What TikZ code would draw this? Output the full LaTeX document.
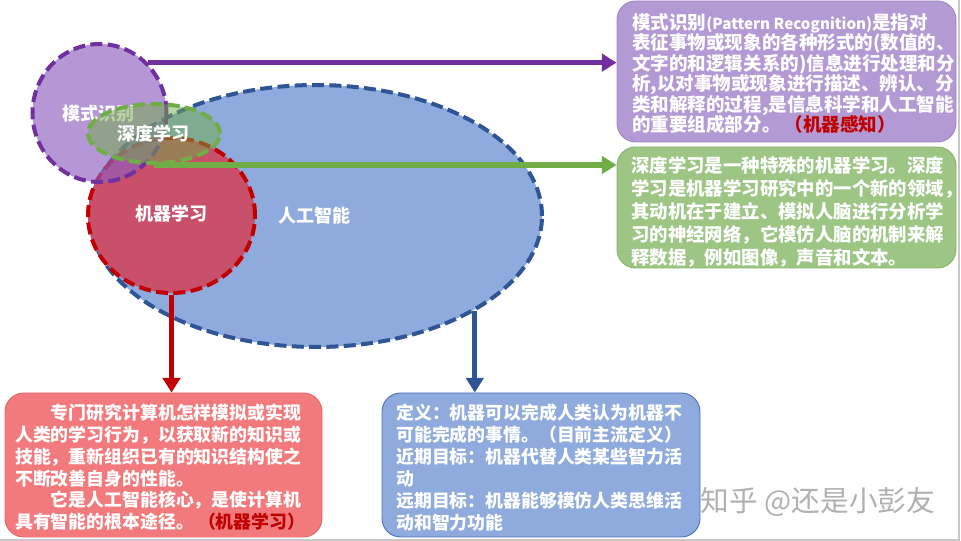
\documentclass[tikz,border=0pt]{standalone}
\usepackage{fontspec}
\setmainfont{Noto Sans CJK SC}
\usetikzlibrary{arrows.meta,shapes.geometric,fit}
\definecolor{aiB}{HTML}{8FAADC}
\definecolor{aiBd}{HTML}{2F5597}
\definecolor{mlR}{HTML}{C8506A}
\definecolor{mlRd}{HTML}{C00000}
\definecolor{prP}{HTML}{8E5FBF}
\definecolor{prPd}{HTML}{7030A0}
\definecolor{dlG}{HTML}{70AD47}
\definecolor{boxP}{HTML}{B49AD4}
\definecolor{boxPd}{HTML}{A088C6}
\definecolor{boxG}{HTML}{9DC685}
\definecolor{boxGd}{HTML}{84B468}
\definecolor{boxR}{HTML}{F37A7C}
\definecolor{boxRd}{HTML}{E06A6C}
\definecolor{boxB}{HTML}{8FAADC}
\definecolor{boxBd}{HTML}{4F71BE}
\definecolor{darkred}{HTML}{C00000}
\definecolor{wmgray}{HTML}{B0B0B0}
\definecolor{framegray}{HTML}{C8C8C8}
\tikzset{
  setshape/.style={ellipse, line width=3pt, dash pattern=on 9pt off 4pt, inner sep=0pt},
  lbl/.style={text=white, font=\fontsize{13.5}{16}\selectfont\bfseries, inner sep=0pt},
  infobox/.style={rectangle, rounded corners=14pt, inner sep=0pt, line width=0.7pt},
  infotxt/.style={text=white, align=left, anchor=north west, inner sep=0pt},
  conn/.style={line width=4pt, -{Triangle[length=11pt,width=13pt]}},
}
\begin{document}
\begin{tikzpicture}[x=0.75pt,y=-0.75pt]
\useasboundingbox (0,0) rectangle (961,541);
% frame
\draw[framegray, line width=1pt] (0,540) -- (959,540) -- (959,0);
% sets
\node[setshape, draw=aiBd, fill=aiB, minimum width=339pt, minimum height=196.5pt] (ai) at (316,216) {};
\node[lbl] (ailbl) at (314,216) {人工智能};
\node[setshape, draw=mlRd, fill=mlR, minimum width=125.25pt, minimum height=116.25pt] (ml) at (171.5,215.5) {};
\node[lbl] (mllbl) at (171,214) {机器学习};
\node[setshape, draw=prPd, fill=prP, fill opacity=0.65, minimum width=100.5pt, minimum height=103.5pt] (pr) at (99.5,113) {};
\node[lbl] (prlbl) at (98,114) {模式识别};
\node[setshape, draw=dlG, fill=dlG, fill opacity=0.5, minimum width=99pt, minimum height=44.25pt] (dl) at (154,133.5) {};
\node[lbl] (dllbl) at (153,134) {深度学习};
% boxes
\node[infobox, fill=boxP, draw=boxPd, fit={(617,1) (956,142)}] (pb) {};
\node[infobox, fill=boxG, draw=boxGd, fit={(617,147) (956,268)}] (gb) {};
\node[infobox, fill=boxR, draw=boxRd, fit={(5,393) (322,537)}] (rb) {};
\node[infobox, fill=boxB, draw=boxBd, fit={(382,393) (700,537)}] (bb) {};
% texts
\node[infotxt, font=\fontsize{13.9}{15.4}\selectfont\bfseries] (pt) at (632,13) {%
模式识别{\fontsize{11.4}{15.4}\selectfont(Pattern Recognition)}是指对\\
表征事物或现象的各种形式的(数值的、\\
文字的和逻辑关系的)信息进行处理和分\\
析,以对事物或现象进行描述、辨认、分\\
类和解释的过程,是信息科学和人工智能\\
的重要组成部分。\ \textcolor{darkred}{（机器感知）}};
\node[infotxt, font=\fontsize{13.8}{17.25}\selectfont\bfseries] (gt) at (631,156) {%
深度学习是一种特殊的机器学习。深度\\
学习是机器学习研究中的一个新的领域，\\
其动机在于建立、模拟人脑进行分析学\\
习的神经网络，它模仿人脑的机制来解\\
释数据，例如图像，声音和文本。};
\node[infotxt, font=\fontsize{13.4}{16.3}\selectfont\bfseries] (rt) at (15,404) {%
\hspace*{2em}专门研究计算机怎样模拟或实现\\
人类的学习行为，以获取新的知识或\\
技能，重新组织已有的知识结构使之\\
不断改善自身的性能。\\
\hspace*{2em}它是人工智能核心，是使计算机\\
具有智能的根本途径。\ \textcolor{darkred}{（机器学习）}};
\node[infotxt, font=\fontsize{13.4}{16.4}\selectfont\bfseries] (bt) at (396,404) {%
定义：机器可以完成人类认为机器不\\
可能完成的事情。（目前主流定义）\\
近期目标：机器代替人类某些智力活\\
动\\
远期目标：机器能够模仿人类思维活\\
动和智力功能};
% connectors
\draw[conn, prPd] (pr.46) -- (pr.46 -| pb.west);
\draw[conn, dlG] (dl.south) -- (dl.south -| gb.west);
\draw[conn, mlRd] (ml.south) -- (ml.south |- rb.north);
\draw[conn, aiBd] (ai.-31) -- (ai.-31 |- bb.north);
% watermark
\node[text=wmgray, font=\fontsize{21.5}{24}\selectfont, inner sep=0pt] (wm) at (818,502) {知乎 @还是小彭友};
\end{tikzpicture}
\end{document}
